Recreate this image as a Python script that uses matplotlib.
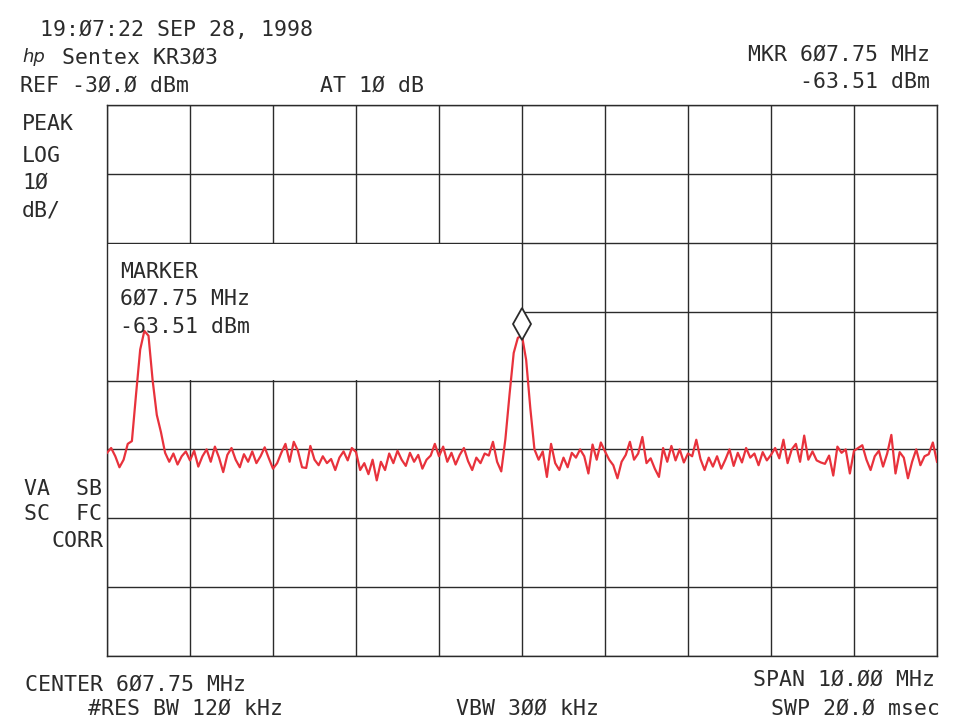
import numpy as np
import matplotlib
matplotlib.use("Agg")
import matplotlib.pyplot as plt
import matplotlib.transforms as mtransforms
from matplotlib.patches import Rectangle

# 掃引設定（中心周波数・スパン・基準レベル）
center_mhz = 607.75
span_mhz = 10.0
ref_dbm = -30.0
db_per_div = 10.0
n_xdiv = 10
n_ydiv = 8

marker_mhz = 607.75
marker_dbm = -63.51

# トレース（0.05 MHz 刻み、201 点、単位 dBm）
trace_dbm = [
    -80.5, -79.8, -81.0, -82.6, -81.5, -79.2, -78.8, -72.0, -65.5, -62.8,
    -63.5, -70.0, -75.0, -77.5, -80.5, -81.8, -80.6, -82.2, -81.0, -80.3,
    -81.6, -80.2, -82.5, -81.0, -80.0, -81.8, -79.6, -81.2, -83.3, -80.8,
    -79.8, -81.5, -82.6, -80.7, -81.8, -80.3, -82.0, -81.0, -79.7, -81.3,
    -82.8, -82.0, -80.5, -79.2, -81.8, -78.9, -80.2, -82.6, -82.7, -79.5,
    -81.5, -82.3, -81.0, -82.0, -81.4, -83.0, -81.2, -80.3, -81.6, -79.8,
    -80.4, -83.0, -82.0, -83.6, -81.5, -84.5, -81.8, -83.0, -80.6, -82.0,
    -80.2, -81.5, -82.4, -80.5, -81.8, -80.8, -82.8, -81.5, -80.9, -79.2,
    -81.0, -79.6, -81.8, -80.5, -82.2, -80.8, -79.8, -81.7, -83.0, -81.2,
    -82.0, -80.6, -80.9, -78.9, -81.8, -83.2, -78.5, -72.0, -66.0, -63.8,
    -63.51, -67.0, -74.0, -80.0, -81.5, -80.3, -84.0, -79.2, -82.0, -83.0,
    -81.2, -82.6, -80.5, -81.2, -80.0, -81.0, -83.5, -79.3, -81.5, -79.0,
    -80.3, -81.5, -82.3, -84.2, -81.8, -80.8, -78.9, -81.5, -80.6, -78.2,
    -82.0, -81.3, -82.8, -84.0, -79.8, -81.8, -79.5, -81.6, -80.0, -81.9,
    -80.6, -81.0, -78.6, -81.4, -83.0, -81.2, -82.5, -81.0, -82.8, -81.5,
    -80.0, -82.4, -80.5, -81.9, -79.8, -81.2, -80.6, -82.3, -80.4, -81.6,
    -80.8, -79.8, -81.3, -78.6, -82.0, -80.0, -79.2, -81.8, -78.0, -81.5,
    -80.3, -81.6, -81.9, -82.1, -80.9, -83.8, -79.6, -80.5, -80.0, -83.5,
    -80.2, -79.8, -79.4, -81.5, -83.0, -81.0, -80.2, -82.5, -80.6, -77.9,
    -83.5, -80.4, -81.2, -84.2, -81.8, -80.0, -82.3, -81.0, -80.7, -79.0,
    -81.8,
]

start_mhz = center_mhz - span_mhz / 2
stop_mhz = center_mhz + span_mhz / 2
bottom_dbm = ref_dbm - n_ydiv * db_per_div
freq_mhz = np.linspace(start_mhz, stop_mhz, len(trace_dbm))

ink = "#2b2b2b"
red = "#e8323c"
plt.rcParams["font.family"] = ["DejaVu Sans Mono", "DejaVu Sans"]

W, H = 980, 725
fig = plt.figure(figsize=(W / 100, H / 100), dpi=100)
ax = fig.add_axes([107 / W, 1 - 656 / H, 830 / W, 551 / H])

ax.set_xlim(start_mhz, stop_mhz)
ax.set_ylim(bottom_dbm, ref_dbm)
ax.set_xticks(np.linspace(start_mhz, stop_mhz, n_xdiv + 1))
ax.set_yticks(np.linspace(bottom_dbm, ref_dbm, n_ydiv + 1))
ax.tick_params(length=0, labelbottom=False, labelleft=False)
ax.set_axisbelow(True)
ax.grid(True, color=ink, linewidth=1.0)
for s in ax.spines.values():
    s.set_color(ink)
    s.set_linewidth(1.0)

# マーカー表示欄（中のグリッドを消す）
box_x0, box_x1 = start_mhz, marker_mhz
box_y0, box_y1 = ref_dbm - 4 * db_per_div, ref_dbm - 2 * db_per_div
dx, dy = 0.009, 0.11
ax.add_patch(Rectangle((box_x0 + dx, box_y0 + dy),
                       box_x1 - box_x0 - 2 * dx, box_y1 - box_y0 - 2 * dy,
                       facecolor="white", edgecolor="none", zorder=1))

ax.plot(freq_mhz, trace_dbm, color=red, linewidth=1.6, zorder=3)

# マーカー（ひし形）
mk_tr = mtransforms.offset_copy(ax.transData, fig=fig, y=12, units="dots")
ax.plot([marker_mhz], [marker_dbm], marker="d", markersize=16,
        markerfacecolor="white", markeredgecolor=ink, markeredgewidth=1.3,
        transform=mk_tr, zorder=4)


def label(x, y, s, ha="left", **kw):
    fig.text(x / W, 1 - y / H, s, ha=ha, va="center", color=ink,
             fontsize=15.5, **kw)


label(40, 30, "19:Ø7:22 SEP 28, 1998")
fig.text(22 / W, 1 - 57 / H, "hp", ha="left", va="center", color=ink,
         fontsize=13, style="italic", family="DejaVu Sans")
label(62, 58, "Sentex KR3Ø3")
label(20, 86, "REF -3Ø.Ø dBm")
label(320, 86, "AT 1Ø dB")
label(930, 55, "MKR 6Ø7.75 MHz", ha="right")
label(930, 82, "-63.51 dBm", ha="right")

label(22, 124, "PEAK")
label(22, 156, "LOG")
label(22, 183, "1Ø")
label(22, 211, "dB/")

label(24, 489, "VA  SB")
label(24, 514, "SC  FC")
label(103, 541, "CORR", ha="right")

label(120, 272, "MARKER")
label(120, 299, "6Ø7.75 MHz")
label(120, 327, "-63.51 dBm")

label(25, 685, "CENTER 6Ø7.75 MHz")
label(88, 709, "#RES BW 12Ø kHz")
label(456, 709, "VBW 3ØØ kHz")
label(935, 680, "SPAN 1Ø.ØØ MHz", ha="right")
label(940, 709, "SWP 2Ø.Ø msec", ha="right")

fig.savefig("out.png", dpi=100, facecolor="white")
